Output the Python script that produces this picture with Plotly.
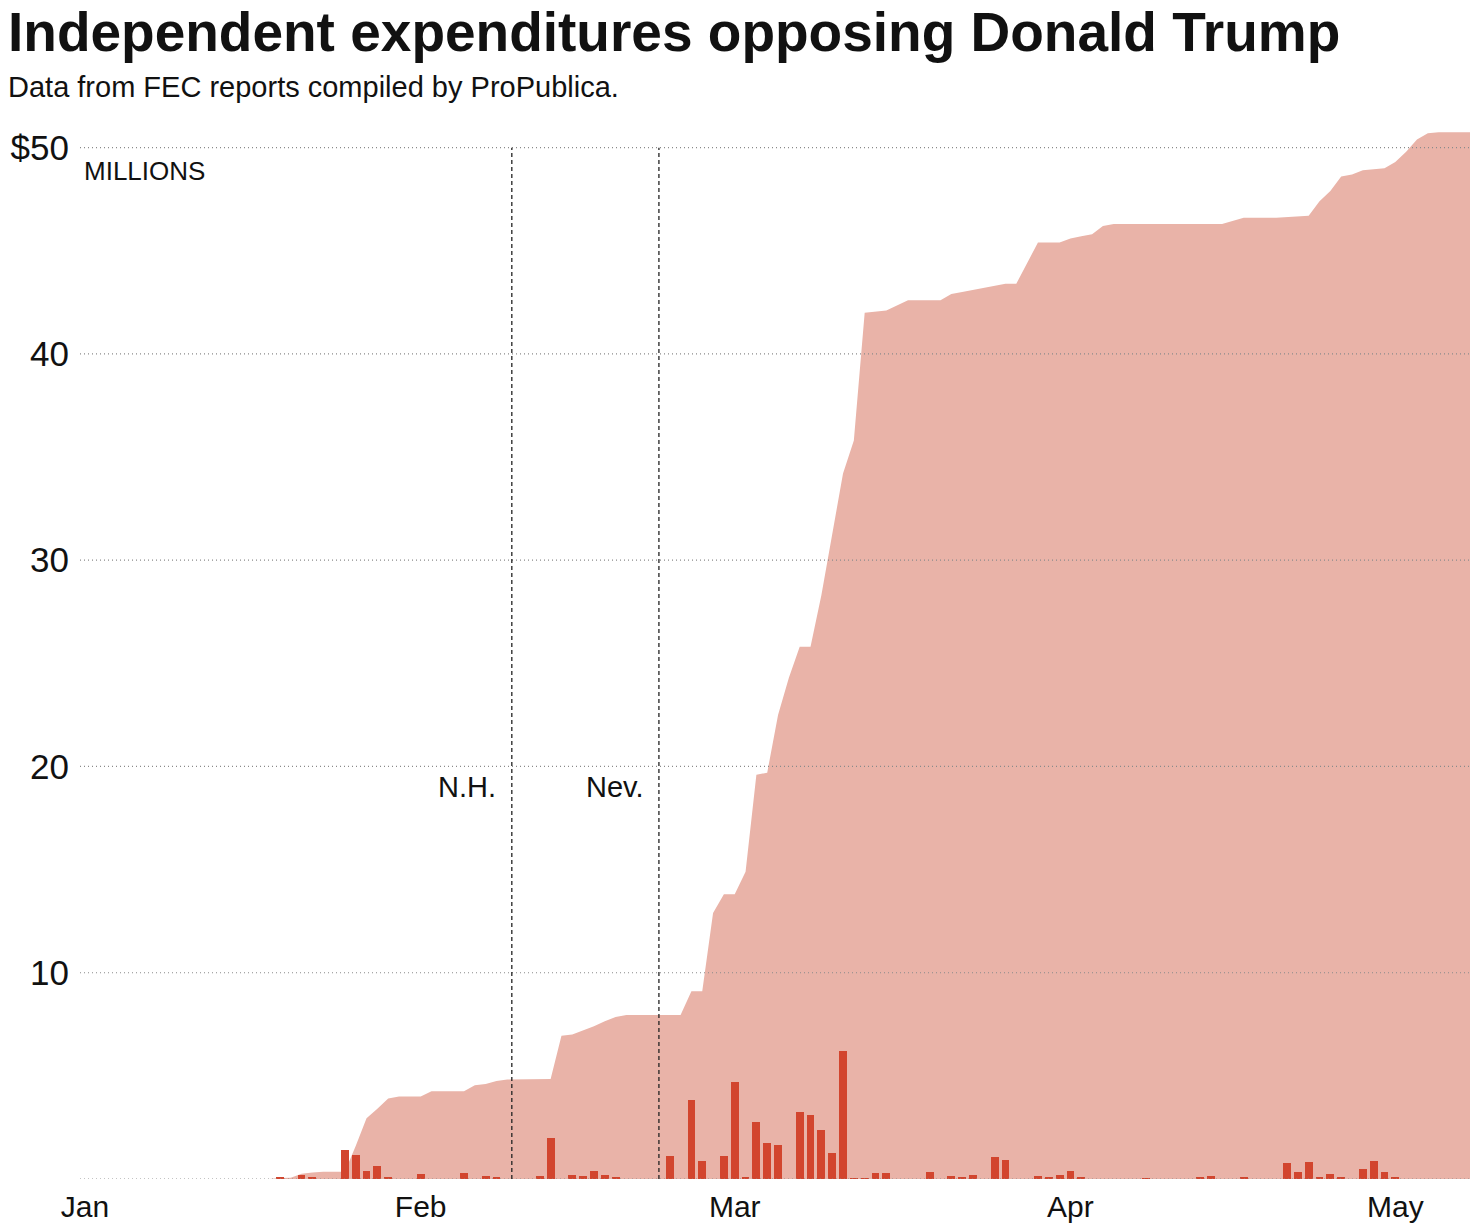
import plotly.graph_objects as go

# ---- Data ----
# Daily independent expenditures opposing Trump, $ millions
bar_dates = [
    "2016-01-19", "2016-01-21", "2016-01-22", "2016-01-25", "2016-01-26", "2016-01-27",
    "2016-01-28", "2016-01-29", "2016-02-01", "2016-02-05", "2016-02-07", "2016-02-08",
    "2016-02-12", "2016-02-13", "2016-02-15", "2016-02-16", "2016-02-17", "2016-02-18",
    "2016-02-19", "2016-02-24", "2016-02-26", "2016-02-27", "2016-02-29", "2016-03-01",
    "2016-03-02", "2016-03-03", "2016-03-04", "2016-03-05", "2016-03-07", "2016-03-08",
    "2016-03-09", "2016-03-10", "2016-03-11", "2016-03-12", "2016-03-13", "2016-03-14",
    "2016-03-15", "2016-03-19", "2016-03-21", "2016-03-22", "2016-03-23", "2016-03-25",
    "2016-03-26", "2016-03-29", "2016-03-30", "2016-03-31", "2016-04-01", "2016-04-02",
    "2016-04-08", "2016-04-13", "2016-04-14", "2016-04-17", "2016-04-21", "2016-04-22",
    "2016-04-23", "2016-04-24", "2016-04-25", "2016-04-26", "2016-04-28", "2016-04-29",
    "2016-04-30", "2016-05-01",
]
bar_values = [
    0.06, 0.21, 0.11, 1.42, 1.16, 0.40,
    0.61, 0.11, 0.24, 0.29, 0.15, 0.09,
    0.13, 1.99, 0.21, 0.13, 0.39, 0.18,
    0.08, 1.10, 3.84, 0.86, 1.13, 4.70,
    0.08, 2.75, 1.74, 1.63, 3.25, 3.10,
    2.39, 1.26, 6.19, 0.03, 0.03, 0.29,
    0.27, 0.34, 0.16, 0.05, 0.18, 1.07,
    0.94, 0.16, 0.08, 0.18, 0.40, 0.08,
    0.03, 0.10, 0.16, 0.06, 0.79, 0.36,
    0.81, 0.06, 0.23, 0.05, 0.48, 0.87,
    0.32, 0.08,
]

# Cumulative total, $ millions
cum_dates = [
    "2016-01-01", "2016-01-18", "2016-01-19", "2016-01-20", "2016-01-21", "2016-01-22",
    "2016-01-23", "2016-01-25", "2016-01-26", "2016-01-27", "2016-01-28", "2016-01-29",
    "2016-01-30", "2016-02-01", "2016-02-02", "2016-02-05", "2016-02-06", "2016-02-07",
    "2016-02-08", "2016-02-09", "2016-02-13", "2016-02-14", "2016-02-15", "2016-02-16",
    "2016-02-17", "2016-02-18", "2016-02-19", "2016-02-20", "2016-02-25", "2016-02-26",
    "2016-02-27", "2016-02-28", "2016-02-29", "2016-03-01", "2016-03-02", "2016-03-03",
    "2016-03-04", "2016-03-05", "2016-03-06", "2016-03-07", "2016-03-08", "2016-03-09",
    "2016-03-10", "2016-03-11", "2016-03-12", "2016-03-13", "2016-03-15", "2016-03-17",
    "2016-03-20", "2016-03-21", "2016-03-22", "2016-03-24", "2016-03-25", "2016-03-26",
    "2016-03-27", "2016-03-29", "2016-03-31", "2016-04-01", "2016-04-02", "2016-04-03",
    "2016-04-04", "2016-04-05", "2016-04-15", "2016-04-17", "2016-04-20", "2016-04-23",
    "2016-04-24", "2016-04-25", "2016-04-26", "2016-04-27", "2016-04-28", "2016-04-30",
    "2016-05-01", "2016-05-02", "2016-05-03", "2016-05-04", "2016-05-05", "2016-05-09",
]
cum_values = [
    0.0, 0.0, 0.05, 0.06, 0.25, 0.32,
    0.35, 0.35, 1.6, 2.95, 3.4, 3.9,
    4.0, 4.0, 4.25, 4.25, 4.55, 4.6,
    4.75, 4.82, 4.85, 6.95, 7.0, 7.2,
    7.4, 7.65, 7.85, 7.95, 7.95, 9.1,
    9.1, 12.9, 13.8, 13.8, 14.9, 19.6,
    19.7, 22.5, 24.3, 25.8, 25.8, 28.3,
    31.3, 34.2, 35.8, 42.0, 42.1, 42.6,
    42.6, 42.9, 43.0, 43.2, 43.3, 43.4,
    43.4, 45.4, 45.4, 45.6, 45.7, 45.8,
    46.2, 46.3, 46.3, 46.6, 46.6, 46.7,
    47.4, 47.9, 48.6, 48.7, 48.9, 49.0,
    49.3, 49.8, 50.4, 50.7, 50.75, 50.75,
]

# Primary markers
event_dates = ["2016-02-09 10:00", "2016-02-23 00:00"]
event_labels = ["N.H.", "Nev."]

month_ticks = ["2016-01-01", "2016-02-01", "2016-03-01", "2016-04-01", "2016-05-01"]
month_labels = ["Jan", "Feb", "Mar", "Apr", "May"]

y_ticks = [10, 20, 30, 40, 50]
y_labels = ["10", "20", "30", "40", "$50"]

x_range = ["2015-12-31 13:00", "2016-05-07 21:30"]
y_range = [0, 51]

FONT = "Arial, Liberation Sans, sans-serif"
AREA = "#e9b3a8"
BAR = "#d2452e"
GRID = "#8a8a8a"

fig = go.Figure()

fig.add_trace(go.Scatter(
    x=cum_dates, y=cum_values, mode="lines", fill="tozeroy",
    line=dict(width=0, color=AREA), fillcolor=AREA,
    hoverinfo="skip", showlegend=False, xaxis="x", yaxis="y",
))
fig.add_trace(go.Bar(
    x=bar_dates, y=bar_values, marker=dict(color=BAR, line=dict(width=0)),
    width=0.72 * 86400000, hoverinfo="skip", showlegend=False,
    xaxis="x2", yaxis="y2",
))

# dotted horizontal gridlines (drawn above the area)
for v in [0] + y_ticks:
    fig.add_shape(type="line", xref="paper", x0=0, x1=1, yref="y", y0=v, y1=v,
                  line=dict(color=GRID, width=1.2, dash="1px,3px"), layer="above")

# dashed vertical event lines and labels
for d, lab in zip(event_dates, event_labels):
    fig.add_shape(type="line", xref="x", x0=d, x1=d, yref="y", y0=0, y1=50,
                  line=dict(color="#222222", width=1.3, dash="4px,3px"), layer="above")
    fig.add_annotation(x=d, y=19, xref="x", yref="y", text=lab, showarrow=False,
                       xanchor="right", yanchor="middle", xshift=-14,
                       font=dict(family=FONT, size=29, color="#111111"))

fig.add_annotation(x=0, y=50, xref="paper", yref="y", text="MILLIONS", showarrow=False,
                   xanchor="left", yanchor="top", xshift=2, yshift=-6,
                   font=dict(family=FONT, size=26, color="#111111"))

fig.add_annotation(text="<b>Independent expenditures opposing Donald Trump</b>",
                   xref="paper", yref="paper", x=0, y=1, xanchor="left", yanchor="bottom",
                   xshift=-73, yshift=63, showarrow=False, borderpad=0,
                   font=dict(family=FONT, size=55, color="#111111"))
fig.add_annotation(text="Data from FEC reports compiled by ProPublica.",
                   xref="paper", yref="paper", x=0, y=1, xanchor="left", yanchor="bottom",
                   xshift=-74, yshift=22, showarrow=False,
                   font=dict(family=FONT, size=29, color="#111111"))

fig.update_layout(
    width=1484, height=1227,
    margin=dict(l=80, r=14, t=127, b=48, autoexpand=False),
    paper_bgcolor="white", plot_bgcolor="white",
    bargap=0, barmode="overlay",
    xaxis=dict(type="date", range=x_range, tickvals=month_ticks, ticktext=month_labels,
               showgrid=False, zeroline=False, showline=False, ticks="",
               automargin=False, ticklabelstandoff=7,
               tickfont=dict(family=FONT, size=30, color="#111111"), fixedrange=True),
    yaxis=dict(range=y_range, tickvals=y_ticks, ticktext=y_labels, showgrid=False,
               zeroline=False, showline=False, ticks="", ticklabelstandoff=10,
               automargin=False,
               tickfont=dict(family=FONT, size=35, color="#111111"), fixedrange=True),
    xaxis2=dict(type="date", range=x_range, overlaying="x", visible=False, fixedrange=True),
    yaxis2=dict(range=y_range, overlaying="y", visible=False, fixedrange=True),
    showlegend=False,
)

fig.write_html("out.html", config={"displayModeBar": False},
               post_script="document.body.style.margin='0';")
